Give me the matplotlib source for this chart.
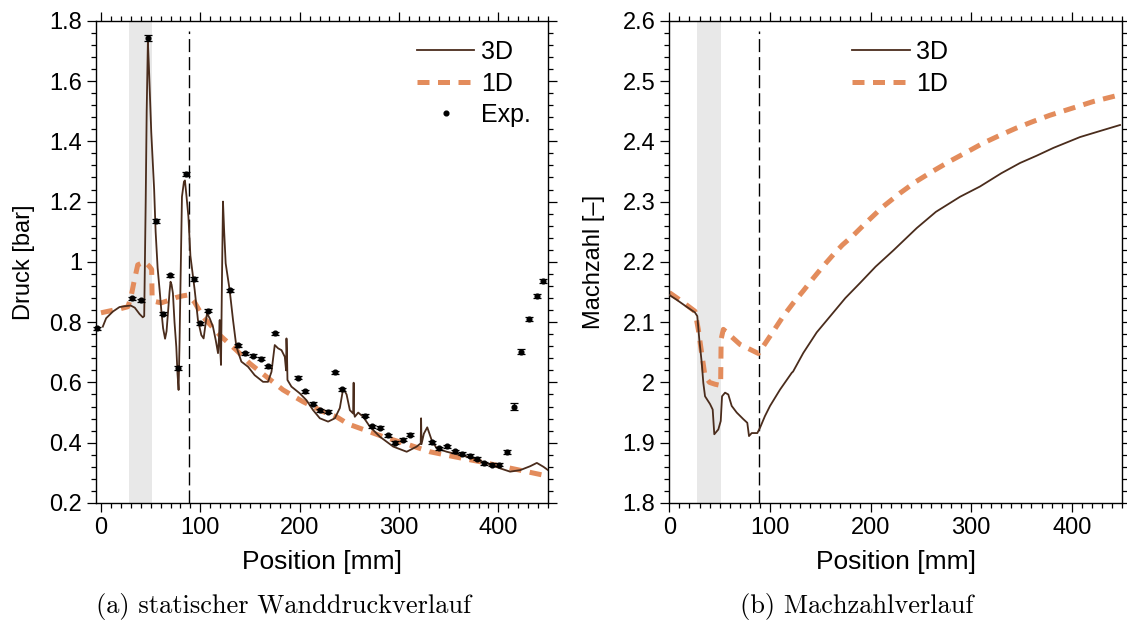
import numpy as np
import matplotlib
matplotlib.use("Agg")
import matplotlib.pyplot as plt
from matplotlib.ticker import MultipleLocator, AutoMinorLocator, FormatStrFormatter

plt.rcParams['font.family'] = ['Liberation Sans', 'DejaVu Sans']

# ---- Daten: statischer Wanddruck (links) ----
x_3d_p = [1.8, 5.2, 11.9, 18.6, 24, 30, 34, 38.8, 42.1, 43.5, 45, 46, 47.2, 48.2, 50.6, 53.5,
          55, 57, 59, 60.7, 62.5, 64.5, 66, 67.4, 69, 70, 71, 72.4, 74, 75.8, 77, 78.1, 79,
          80.1, 81.5, 83.5, 84.5, 86, 88, 90, 94.3, 97.6, 101, 103.3, 106.7, 109.4, 112.7,
          115.5, 117.8, 118.8, 119.5, 120.2, 120.8, 121.8, 122.8, 124, 125.5, 129.5, 132.9,
          136.3, 141.3, 148, 154.7, 163.1, 168.1, 171.6, 174.9, 178.3, 181.7, 185, 186.3,
          186.7, 187.2, 187.7, 191.7, 200, 206.8, 213.5, 220.3, 228.6, 235.4, 240.4, 243.8,
          247.2, 250.5, 253.8, 254.3, 254.6, 255.5, 258.9, 263.9, 270.7, 280.7, 294.2, 307.7,
          317.7, 321.8, 322.2, 322.6, 325, 328.4, 332.8, 337.9, 348, 361.4, 374.8, 388.3,
          401.7, 411.8, 421.9, 432, 438.7, 445.4, 450]
p_3d = [0.785, 0.813, 0.835, 0.850, 0.853, 0.855, 0.848, 0.827, 0.816, 0.82, 1.2, 1.5,
        1.73, 1.65, 1.43, 1.24, 1.10, 0.98, 0.907, 0.84, 0.78, 0.745, 0.77, 0.83, 0.9,
        0.934, 0.925, 0.896, 0.80, 0.718, 0.63, 0.575, 0.72, 0.94, 1.216, 1.266, 1.27, 1.22,
        1.15, 1.02, 0.907, 0.807, 0.757, 0.746, 0.829, 0.813, 0.785, 0.74, 0.697, 0.75,
        0.807, 0.70, 0.658, 0.95, 1.2, 1.1, 0.995, 0.907, 0.807, 0.718, 0.669, 0.652, 0.624,
        0.602, 0.602, 0.635, 0.724, 0.713, 0.707, 0.685, 0.64, 0.746, 0.70, 0.608, 0.586,
        0.564, 0.541, 0.508, 0.481, 0.470, 0.481, 0.515, 0.580, 0.56, 0.508, 0.497, 0.599,
        0.50, 0.486, 0.50, 0.486, 0.453, 0.42, 0.387, 0.370, 0.387, 0.398, 0.481, 0.395,
        0.43, 0.451, 0.409, 0.381, 0.370, 0.359, 0.348, 0.332, 0.315, 0.304, 0.309, 0.322,
        0.333, 0.320, 0.309]

x_1d_p = [0, 10, 20, 27, 30, 33, 37, 44, 49, 51, 51.5, 55, 60.7, 68, 75.8, 82, 87.5, 89,
          94.2, 102.6, 119.5, 136.3, 149.7, 166.5, 183.3, 203.4, 223.6, 237, 248.8, 265.6,
          284, 311, 331, 356.4, 381.5, 408.5, 428.6, 450]
p_1d = [0.831, 0.838, 0.845, 0.851, 0.88, 0.93, 0.99, 1.0, 0.984, 0.975, 0.875, 0.868,
        0.864, 0.872, 0.882, 0.887, 0.89, 0.886, 0.866, 0.818, 0.757, 0.707, 0.663, 0.619,
        0.575, 0.536, 0.503, 0.486, 0.462, 0.442, 0.42, 0.392, 0.37, 0.353, 0.337, 0.318,
        0.304, 0.289]

x_exp = [-4, 31.4, 39.8, 47.8, 55.6, 62.3, 69.4, 77.1, 85.4, 93.2, 100, 107.4, 130.2, 138.3,
         145.4, 153, 160.8, 167.8, 175.6, 198, 205.4, 212.9, 220.3, 228, 236, 242.7, 265.6,
         272.4, 280.7, 288.5, 296.2, 303.6, 311.3, 332.9, 340.5, 348.3, 356, 363.7, 371.2,
         378.5, 385.6, 393.3, 401, 408.5, 415.8, 422.9, 430.7, 439, 445.1]
p_exp = [0.779, 0.879, 0.872, 1.742, 1.136, 0.828, 0.956, 0.647, 1.292, 0.944, 0.797, 0.838,
         0.905, 0.723, 0.697, 0.688, 0.679, 0.653, 0.763, 0.616, 0.571, 0.529, 0.507, 0.502,
         0.634, 0.577, 0.489, 0.454, 0.449, 0.425, 0.400, 0.410, 0.426, 0.402, 0.382, 0.389,
         0.372, 0.363, 0.357, 0.346, 0.332, 0.327, 0.327, 0.368, 0.519, 0.702, 0.810, 0.887,
         0.936]
err_exp = [0.006, 0.005, 0.005, 0.009, 0.006, 0.005, 0.005, 0.006, 0.007, 0.006, 0.005,
           0.005, 0.006, 0.005, 0.005, 0.005, 0.005, 0.005, 0.005, 0.005, 0.005, 0.005,
           0.005, 0.005, 0.005, 0.005, 0.005, 0.005, 0.005, 0.005, 0.005, 0.005, 0.005,
           0.005, 0.005, 0.005, 0.005, 0.005, 0.005, 0.005, 0.005, 0.005, 0.005, 0.007,
           0.012, 0.008, 0.006, 0.006, 0.006]

# ---- Daten: Machzahl (rechts) ----
x_3d_m = [0, 7.4, 15, 25.5, 27.8, 29.8, 32.2, 33.8, 35.5, 40.5, 43.1, 44.7, 48.7, 51.1, 52.4,
          55.4, 58.6, 62, 67, 73.6, 77.5, 79.2, 81.9, 87.5, 90.2, 95, 100.1, 110, 121.7, 123,
          133.2, 146.5, 161, 175, 189.6, 205, 222.7, 245.9, 265, 289, 308.8, 330, 348.6,
          365, 381.7, 408.2, 430, 448]
m_3d = [2.145, 2.137, 2.128, 2.116, 2.110, 2.071, 2.033, 1.999, 1.977, 1.964, 1.955, 1.914,
        1.922, 1.936, 1.977, 1.983, 1.980, 1.961, 1.950, 1.939, 1.933, 1.911, 1.916, 1.916,
        1.925, 1.944, 1.961, 1.988, 2.016, 2.018, 2.049, 2.083, 2.112, 2.140, 2.165, 2.192,
        2.219, 2.256, 2.283, 2.308, 2.325, 2.347, 2.364, 2.376, 2.389, 2.407, 2.418, 2.427]

x_1d_m = [0, 12, 25.5, 28.8, 32.1, 35.5, 40, 45.4, 51, 51.5, 53.7, 70.3, 88.5, 93.4, 103.4,
          113.3, 123.3, 133.2, 143.1, 153, 163, 172, 182.9, 196.2, 212, 229.3, 245, 262.5,
          280, 295.6, 312, 328.7, 345, 361.8, 378, 395, 421.5, 450]
m_1d = [2.149, 2.135, 2.118, 2.088, 2.049, 2.010, 2.0, 1.997, 1.995, 2.072, 2.088, 2.063,
        2.048, 2.06, 2.085, 2.110, 2.132, 2.152, 2.173, 2.193, 2.212, 2.228, 2.244, 2.266,
        2.291, 2.314, 2.333, 2.351, 2.368, 2.382, 2.397, 2.410, 2.422, 2.433, 2.443, 2.452,
        2.466, 2.478]

band = (28, 51)      # grauer Bereich
x_dash = 89          # gestrichelte Linie

c3d = '#4a2c1c'
c1d = '#e38c5c'
fs = 17

fig = plt.figure(figsize=(11.27, 6.26), dpi=100)
ax1 = fig.add_axes([0.0852, 0.1965, 0.4011, 0.7704])
ax2 = fig.add_axes([0.5939, 0.1965, 0.4017, 0.7704])

for ax in (ax1, ax2):
    ax.axvspan(band[0], band[1], color='#e8e8e8', lw=0, zorder=0)
    ax.axvline(x_dash, ymin=0, ymax=0.978, color='k', lw=1.0, dashes=(9.4, 3.6), zorder=1)

# links
ax1.plot(x_3d_p, p_3d, color=c3d, lw=1.3, label='3D', zorder=3)
l1, = ax1.plot(x_1d_p, p_1d, color=c1d, lw=3.6, label='1D', zorder=2)
l1.set_dashes([2.4, 1.7])
ax1.errorbar(x_exp, p_exp, yerr=err_exp, fmt='none', ecolor='k', elinewidth=0.9,
             capsize=2.9, capthick=0.9, zorder=4, clip_on=False)
ax1.plot(x_exp, p_exp, 'o', color='k', ms=3.4, ls='none', label='Exp.', zorder=5, clip_on=False)
ax1.set_xlim(-5, 450)
ax1.set_ylim(0.2, 1.8)
ax1.yaxis.set_major_locator(MultipleLocator(0.2))
ax1.yaxis.set_major_formatter(FormatStrFormatter('%g'))
ax1.set_ylabel('Druck [bar]', fontsize=fs, labelpad=10)
ax1.legend(loc='upper left', bbox_to_anchor=(0.71, 0.96), frameon=False, fontsize=18,
           handlelength=2.3, handletextpad=0.25, labelspacing=0.3, borderpad=0,
           borderaxespad=0)

# rechts
ax2.plot(x_3d_m, m_3d, color=c3d, lw=1.3, label='3D', zorder=3)
l2, = ax2.plot(x_1d_m, m_1d, color=c1d, lw=3.6, label='1D', zorder=2)
l2.set_dashes([2.4, 1.7])
ax2.set_xlim(0, 450)
ax2.set_ylim(1.8, 2.6)
ax2.yaxis.set_major_locator(MultipleLocator(0.1))
ax2.yaxis.set_major_formatter(FormatStrFormatter('%g'))
ax2.set_ylabel('Machzahl [\u2013]', fontsize=fs, labelpad=13)
ax2.legend(loc='upper left', bbox_to_anchor=(0.404, 0.96), frameon=False, fontsize=18,
           handlelength=2.3, handletextpad=0.25, labelspacing=0.3, borderpad=0,
           borderaxespad=0)

for ax in (ax1, ax2):
    ax.xaxis.set_major_locator(MultipleLocator(100))
    ax.xaxis.set_minor_locator(AutoMinorLocator(10))
    ax.yaxis.set_minor_locator(AutoMinorLocator(5))
    ax.tick_params(which='both', direction='out', top=True, right=True, labelsize=fs,
                   width=0.9)
    ax.tick_params(which='major', length=6.5)
    ax.tick_params(which='minor', length=3.4)
    ax.set_xlabel('Position [mm]', fontsize=19, labelpad=8)
    for s in ax.spines.values():
        s.set_linewidth(1.0)

fig.text(284 / 1127, 1 - 607 / 626, '(a) statischer Wanddruckverlauf', family='cmr10',
         fontsize=19, ha='center', va='center')
fig.text(857 / 1127, 1 - 607 / 626, '(b) Machzahlverlauf', family='cmr10',
         fontsize=19, ha='center', va='center')

fig.savefig('out.png', dpi=100)
